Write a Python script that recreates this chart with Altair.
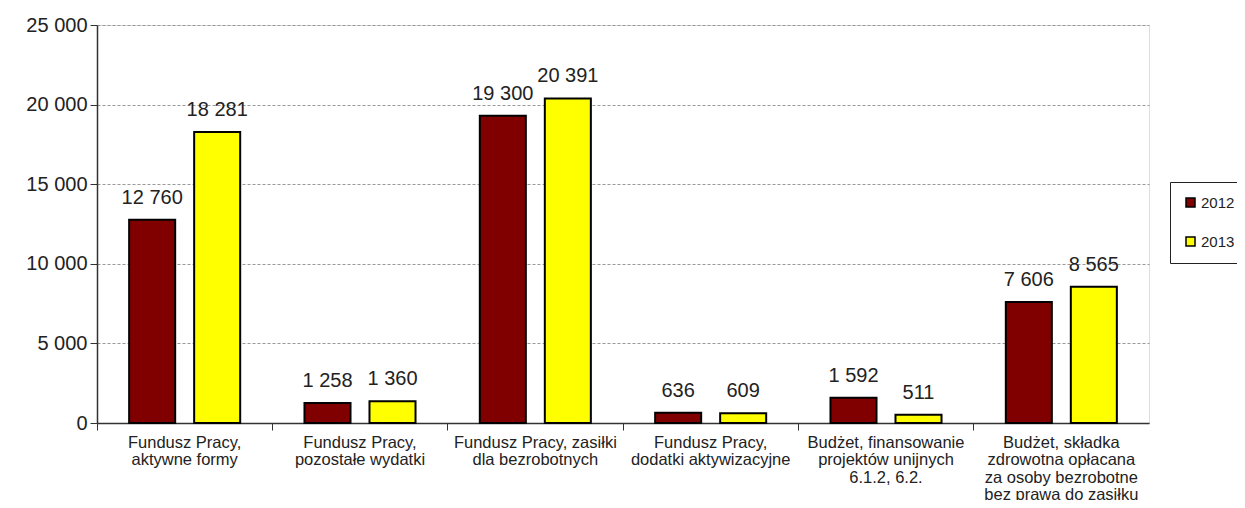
import altair as alt
import pandas as pd

categories = [
    "Fundusz Pracy,\naktywne formy",
    "Fundusz Pracy,\npozostałe wydatki",
    "Fundusz Pracy, zasiłki\ndla bezrobotnych",
    "Fundusz Pracy,\ndodatki aktywizacyjne",
    "Budżet, finansowanie\nprojektów unijnych\n6.1.2, 6.2.",
    "Budżet, składka\nzdrowotna opłacana\nza osoby bezrobotne\nbez prawa do zasiłku",
]
years = ["2012", "2013"]
values_2012 = [12760, 1258, 19300, 636, 1592, 7606]
values_2013 = [18281, 1360, 20391, 609, 511, 8565]
colors = ["#800000", "#FFFF00"]

rows = []
for c, v1, v2 in zip(categories, values_2012, values_2013):
    rows.append({"cat": c, "year": years[0], "value": v1})
    rows.append({"cat": c, "year": years[1], "value": v2})
df = pd.DataFrame(rows)

FONT = "Liberation Sans"

x = alt.X(
    "cat:N",
    sort=categories,
    title=None,
    scale=alt.Scale(paddingInner=0, paddingOuter=0),
    axis=alt.Axis(
        labelAngle=0,
        labelExpr="split(datum.label, '\\n')",
        labelLineHeight=17.5,
        labelFontSize=16.5,
        labelFont=FONT,
        labelColor="#222222",
        labelPadding=4,
        bandPosition=0,
        tickSize=7,
        tickColor="#333333",
        domainColor="#333333",
        domainWidth=1.5,
        labelBaseline="top",
        grid=False,
    ),
)
xoff = alt.XOffset(
    "year:N",
    sort=years,
    scale=alt.Scale(paddingInner=0.292, paddingOuter=0.4945),
)
y = alt.Y(
    "value:Q",
    title=None,
    scale=alt.Scale(domain=[0, 25000], nice=False),
    axis=alt.Axis(
        values=[0, 5000, 10000, 15000, 20000, 25000],
        labelExpr="replace(format(datum.value, ','), ',', ' ')",
        labelFontSize=20,
        labelFont=FONT,
        labelColor="#222222",
        labelPadding=3,
        tickSize=7,
        tickColor="#333333",
        domainColor="#333333",
        domainWidth=1.5,
        grid=True,
        gridColor="#999999",
        gridDash=[3, 2],
        gridWidth=1,
    ),
)

bars = alt.Chart(df).mark_bar(stroke="black", strokeWidth=2).encode(
    x=x,
    xOffset=xoff,
    y=y,
    color=alt.Color(
        "year:N",
        sort=years,
        title=None,
        scale=alt.Scale(domain=years, range=colors),
        legend=alt.Legend(
            orient="none",
            legendX=1073,
            legendY=157,
            symbolType="square",
            symbolSize=81,
            symbolStrokeColor="black",
            symbolStrokeWidth=1.5,
            labelFontSize=15,
            labelFont=FONT,
            labelColor="#222222",
            labelOffset=3,
            rowPadding=23,
            padding=13,
            strokeColor="#222222",
            fillColor="white",
        ),
    ),
)

labels = alt.Chart(df).transform_calculate(
    label="replace(format(datum.value, ','), ',', ' ')"
).mark_text(
    baseline="alphabetic", dy=-16, fontSize=20, font=FONT, color="#222222"
).encode(
    x=x,
    xOffset=xoff,
    y=y,
    text="label:N",
)

chart = (
    alt.layer(bars, labels)
    .properties(
        width=1052,
        height=398,
        autosize=alt.AutoSizeParams(type="none"),
        padding={"left": 89, "top": 17, "right": 88, "bottom": 77},
    )
    .configure_view(stroke="#888888", strokeWidth=1.5)
    .configure(background="white")
)

chart.save("out.html", embed_options={"renderer": "svg", "actions": False})
